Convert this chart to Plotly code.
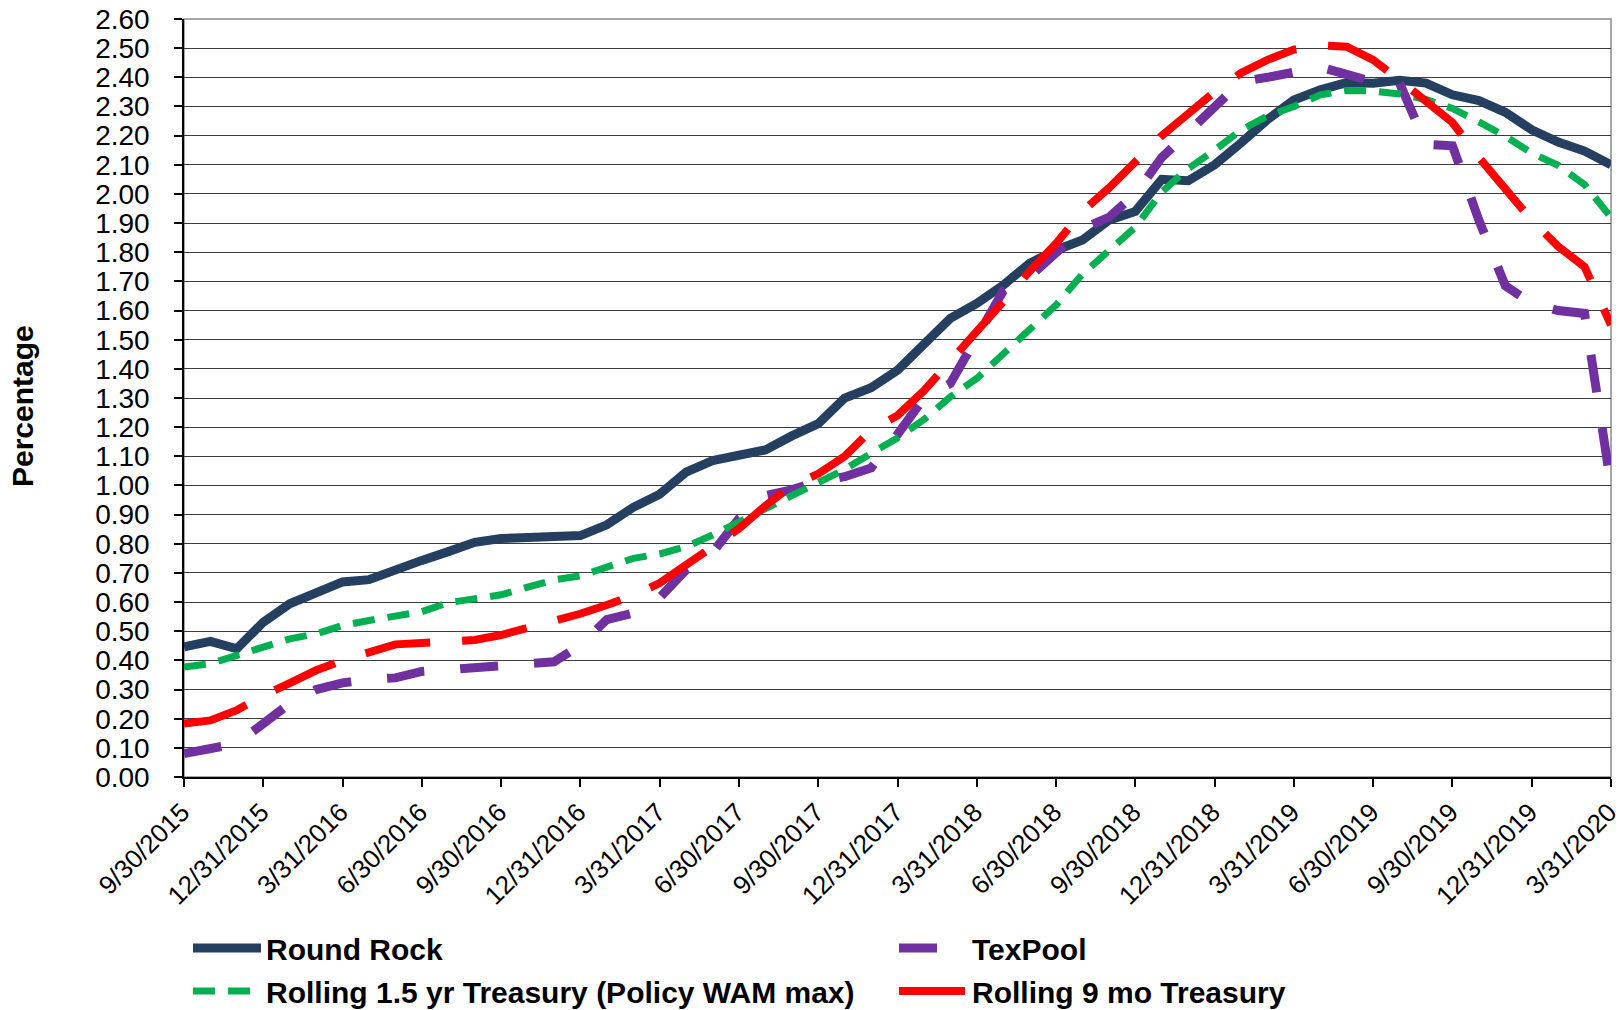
import plotly.graph_objects as go

# ---------------- DATA ----------------
months = [
    "9/30/2015", "10/31/2015", "11/30/2015", "12/31/2015",
    "1/31/2016", "2/29/2016", "3/31/2016", "4/30/2016", "5/31/2016", "6/30/2016",
    "7/31/2016", "8/31/2016", "9/30/2016", "10/31/2016", "11/30/2016", "12/31/2016",
    "1/31/2017", "2/28/2017", "3/31/2017", "4/30/2017", "5/31/2017", "6/30/2017",
    "7/31/2017", "8/31/2017", "9/30/2017", "10/31/2017", "11/30/2017", "12/31/2017",
    "1/31/2018", "2/28/2018", "3/31/2018", "4/30/2018", "5/31/2018", "6/30/2018",
    "7/31/2018", "8/31/2018", "9/30/2018", "10/31/2018", "11/30/2018", "12/31/2018",
    "1/31/2019", "2/28/2019", "3/31/2019", "4/30/2019", "5/31/2019", "6/30/2019",
    "7/31/2019", "8/31/2019", "9/30/2019", "10/31/2019", "11/30/2019", "12/31/2019",
    "1/31/2020", "2/29/2020", "3/31/2020",
]

tick_labels = [
    "9/30/2015", "12/31/2015", "3/31/2016", "6/30/2016", "9/30/2016", "12/31/2016",
    "3/31/2017", "6/30/2017", "9/30/2017", "12/31/2017", "3/31/2018", "6/30/2018",
    "9/30/2018", "12/31/2018", "3/31/2019", "6/30/2019", "9/30/2019", "12/31/2019",
    "3/31/2020",
]

y_ticks = [0.00, 0.10, 0.20, 0.30, 0.40, 0.50, 0.60, 0.70, 0.80, 0.90, 1.00, 1.10, 1.20,
           1.30, 1.40, 1.50, 1.60, 1.70, 1.80, 1.90, 2.00, 2.10, 2.20, 2.30, 2.40, 2.50, 2.60]

round_rock = [
    0.446, 0.465, 0.440, 0.531, 0.594, 0.634, 0.669, 0.677, 0.714, 0.743,
    0.773, 0.805, 0.818, 0.822, 0.827, 0.828, 0.865, 0.925, 0.970, 1.046,
    1.085, 1.105, 1.122, 1.170, 1.212, 1.300, 1.335, 1.395, 1.480, 1.573,
    1.624, 1.687, 1.762, 1.807, 1.842, 1.910, 1.940, 2.050, 2.045, 2.100,
    2.175, 2.255, 2.322, 2.357, 2.382, 2.380, 2.390, 2.380, 2.340, 2.320,
    2.280, 2.220, 2.178, 2.147, 2.100,
]

texpool = [
    0.080, 0.095, 0.115, 0.183, 0.252, 0.300, 0.323, 0.335, 0.340, 0.362,
    0.368, 0.373, 0.376, 0.385, 0.395, 0.452, 0.540, 0.562, 0.615, 0.710,
    0.770, 0.886, 0.965, 0.985, 1.015, 1.030, 1.060, 1.175, 1.300, 1.350,
    1.510, 1.667, 1.716, 1.800, 1.880, 1.920, 2.000, 2.125, 2.210, 2.300,
    2.385, 2.400, 2.415, 2.435, 2.410, 2.385, 2.380, 2.170, 2.165, 1.910,
    1.685, 1.625, 1.600, 1.590, 1.000,
]

rolling_15yr = [
    0.377, 0.389, 0.417, 0.448, 0.474, 0.491, 0.520, 0.537, 0.549, 0.567,
    0.598, 0.613, 0.625, 0.651, 0.676, 0.690, 0.720, 0.750, 0.765, 0.790,
    0.830, 0.875, 0.915, 0.960, 1.005, 1.055, 1.110, 1.163, 1.226, 1.304,
    1.367, 1.453, 1.533, 1.619, 1.725, 1.808, 1.886, 2.007, 2.087, 2.150,
    2.219, 2.267, 2.300, 2.340, 2.355, 2.353, 2.343, 2.324, 2.293, 2.247,
    2.198, 2.140, 2.098, 2.032, 1.920,
]

rolling_9mo = [
    0.183, 0.194, 0.229, 0.280, 0.322, 0.366, 0.400, 0.430, 0.455, 0.460,
    0.465, 0.470, 0.487, 0.510, 0.535, 0.560, 0.590, 0.622, 0.665, 0.726,
    0.789, 0.852, 0.930, 1.000, 1.040, 1.100, 1.190, 1.240, 1.325, 1.425,
    1.520, 1.630, 1.735, 1.830, 1.940, 2.020, 2.110, 2.200, 2.275, 2.350,
    2.415, 2.460, 2.495, 2.510, 2.505, 2.460, 2.390, 2.320, 2.245, 2.125,
    2.015, 1.910, 1.820, 1.750, 1.550,
]

# ---------------- STYLE ----------------
W, H = 1622, 1010
ML, MR, MT, MB = 184, 11, 19, 233
FONT = "Liberation Sans, Arial, Helvetica, sans-serif"
plot_w = W - ML - MR
plot_h = H - MT - MB


def px_x(x):
    return (x - ML) / plot_w


def px_y(y):
    return (MT + plot_h - y) / plot_h


ITEMW = 68
ROW1, ROW2 = 948, 991
COL1_TEXT, COL2_TEXT = 266, 972


def legend_at(text_x, row_y):
    return dict(orientation="h", x=px_x(text_x - ITEMW - 10), xanchor="left",
                y=px_y(row_y), yanchor="middle", itemwidth=ITEMW,
                font=dict(family=FONT, size=30, color="black", weight="bold"),
                bgcolor="rgba(0,0,0,0)", borderwidth=0)


fig = go.Figure()
fig.add_trace(go.Scatter(x=months, y=round_rock, name="Round Rock", mode="lines",
                         line=dict(color="#243F60", width=9), legend="legend"))
fig.add_trace(go.Scatter(x=months, y=texpool, name="TexPool", mode="lines",
                         line=dict(color="#7030A0", width=9, dash="38px,36px"), legend="legend2"))
fig.add_trace(go.Scatter(x=months, y=rolling_15yr, name="Rolling 1.5 yr Treasury (Policy WAM max)",
                         mode="lines", line=dict(color="#00B050", width=7, dash="22px,13px"),
                         legend="legend3"))
fig.add_trace(go.Scatter(x=months, y=rolling_9mo, name="Rolling 9 mo Treasury", mode="lines",
                         line=dict(color="#FF0000", width=8, dash="66px,32px"), legend="legend4"))

fig.update_layout(
    width=W, height=H,
    margin=dict(l=ML, r=MR, t=MT, b=MB, pad=0, autoexpand=False),
    paper_bgcolor="white", plot_bgcolor="white",
    font=dict(family=FONT, size=28, color="black"),
    showlegend=True,
    legend=legend_at(COL1_TEXT, ROW1),
    legend2=legend_at(COL2_TEXT, ROW1),
    legend3=legend_at(COL1_TEXT, ROW2),
    legend4=legend_at(COL2_TEXT, ROW2),
    xaxis=dict(
        type="category", range=[0, len(months) - 1],
        tickmode="array", tickvals=tick_labels, ticktext=tick_labels,
        tickangle=-45, ticks="outside", ticklen=8, tickcolor="black", tickwidth=1.5,
        showline=True, linecolor="black", linewidth=1.5,
        showgrid=False, zeroline=False,
        tickfont=dict(family=FONT, size=26, color="black"),
        ticklabelshift=-2,
        automargin=False,
    ),
    yaxis=dict(
        range=[0, 2.6], tickmode="array", tickvals=y_ticks,
        ticktext=[f"{v:.2f}" for v in y_ticks],
        ticks="outside", ticklen=8, tickcolor="black", tickwidth=1.5,
        showline=True, linecolor="black", linewidth=1.5,
        showgrid=True, gridcolor="#3c3c3c", gridwidth=1,
        zeroline=False,
        tickfont=dict(family=FONT, size=28, color="black"),
        ticklabelstandoff=19,
        automargin=False,
    ),
    annotations=[dict(text="Percentage", xref="paper", yref="paper",
                      x=px_x(23), y=px_y(406), xanchor="center", yanchor="middle",
                      textangle=-90, showarrow=False,
                      font=dict(family=FONT, size=30, color="black", weight="bold"))],
    shapes=[dict(type="rect", xref="paper", yref="paper", x0=0, x1=1, y0=0, y1=1,
                 line=dict(color="#8a8a8a", width=1.5), layer="below")],
)

fig.write_html("out.html", config={"displayModeBar": False},
               post_script="document.body.style.margin='0';document.body.style.overflow='hidden';")
